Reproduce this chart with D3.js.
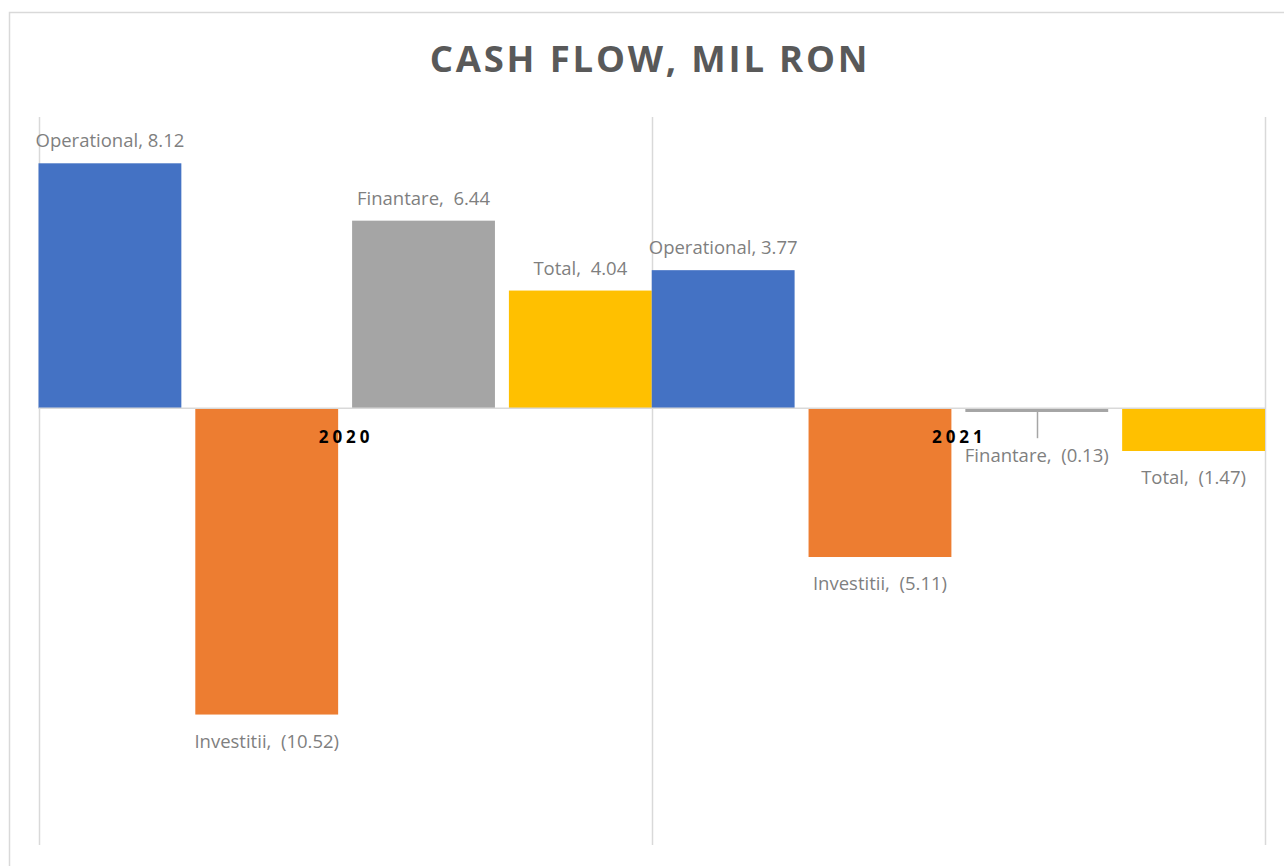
<!DOCTYPE html>
<html lang="en">
<head>
<meta charset="utf-8">
<title>Cash Flow, mil RON</title>
<script src="https://cdn.jsdelivr.net/npm/d3@7"></script>
<style>
  body { margin: 0; background: #fff; }
  svg { display: block; }
</style>
</head>
<body>
<div id="chart"></div>
<script>

// data
var years = ["2020", "2021"];
var series = ["Operational", "Investitii", "Finantare", "Total"];
var colors = ["#4472C4", "#ED7D31", "#A5A5A5", "#FFC000"];
// bar heights as drawn in the picture
var values2020 = [8.41, -10.52, 6.44, 4.04];
var values2021 = [4.74, -5.11, -0.13, -1.47];
// numbers shown in the data labels
var labels2020 = ["8.12", "(10.52)", "6.44", "4.04"];
var labels2021 = ["3.77", "(5.11)", "(0.13)", "(1.47)"];
var yDomain = [-15, 10];

var W = 1284, H = 866;

var svg = d3.select("#chart")
	.append("svg")
	.attr("width", W)
	.attr("height", H);

// outer frame
svg.append("rect")
	.attr("x", 9.5)
	.attr("y", 12.5)
	.attr("width", W + 20)
	.attr("height", H + 20)
	.attr("fill", "none")
	.attr("stroke", "#d9d9d9")
	.attr("stroke-width", 1.5);

// title
svg.append("text")
	.attr("x", 650)
	.attr("y", 72)
	.attr("text-anchor", "middle")
	.style("font-family", "'Open Sans', sans-serif")
	.style("font-weight", "bold")
	.style("font-size", "36.5px")
	.style("letter-spacing", "2.8px")
	.style("fill", "#595959")
	.text("CASH FLOW, MIL RON");

/*********************************************************************/
// scales

var x0 = d3.scaleBand()
	.domain(years)
	.range([38.5, 1265])
	.padding(0);

var x1 = d3.scaleBand()
	.domain(series)
	.range([0, x0.bandwidth()])
	.paddingInner(0.089)
	.paddingOuter(0);

var y = d3.scaleLinear()
	.domain(yDomain)
	.range([845, 117]);

var rows = [];
years.forEach(function(yr, i){
	var vals = i == 0 ? values2020 : values2021;
	var labs = i == 0 ? labels2020 : labels2021;
	series.forEach(function(s, j){
		rows.push({year: yr, name: s, value: vals[j], label: labs[j], color: colors[j]});
	});
});

/*********************************************************************/
// gridlines at category edges

var edges = years.map(function(d){ return x0(d); }).concat([x0.range()[1]]);

svg.append("g")
	.selectAll("line")
	.data(edges)
	.enter()
	.append("line")
	.attr("x1", function(d){ return Math.round(d) + 0.5; })
	.attr("x2", function(d){ return Math.round(d) + 0.5; })
	.attr("y1", y(yDomain[1]))
	.attr("y2", y(yDomain[0]))
	.attr("stroke", "#d9d9d9")
	.attr("stroke-width", 1.5);

/*********************************************************************/
// bars

svg.append("g")
	.selectAll("rect")
	.data(rows)
	.enter()
	.append("rect")
	.attr("x", function(d){ return x0(d.year) + x1(d.name); })
	.attr("width", x1.bandwidth())
	.attr("y", function(d){ return y(Math.max(0, d.value)); })
	.attr("height", function(d){ return Math.abs(y(d.value) - y(0)); })
	.attr("fill", function(d){ return d.color; });

// zero line
svg.append("line")
	.attr("x1", x0.range()[0])
	.attr("x2", x0.range()[1])
	.attr("y1", y(0))
	.attr("y2", y(0))
	.attr("stroke", "#d9d9d9")
	.attr("stroke-width", 1.5);

/*********************************************************************/
// year labels

svg.append("g")
	.selectAll("text")
	.data(years)
	.enter()
	.append("text")
	.attr("x", function(d){ return x0(d) + x0.bandwidth()/2 + 1; })
	.attr("y", y(0) + 35)
	.attr("text-anchor", "middle")
	.style("font-family", "'Open Sans', sans-serif")
	.style("font-weight", "bold")
	.style("font-size", "17px")
	.style("letter-spacing", "4px")
	.style("fill", "#000")
	.text(function(d){ return d; });

/*********************************************************************/
// data labels

function labelY(d){
	if(d.year == "2021" && d.name == "Finantare") return y(0) + 54;
	if(d.value >= 0) return y(d.value) - 16;
	return y(d.value) + 33;
}

// leader line for the small bar
rows.filter(function(d){ return d.year == "2021" && d.name == "Finantare"; })
	.forEach(function(d){
		var cx = Math.round(x0(d.year) + x1(d.name) + x1.bandwidth()/2) + 0.5;
		svg.append("line")
			.attr("x1", cx)
			.attr("x2", cx)
			.attr("y1", y(d.value))
			.attr("y2", y(0) + 30)
			.attr("stroke", "#a6a6a6")
			.attr("stroke-width", 1.5);
	});

svg.append("g")
	.selectAll("text")
	.data(rows)
	.enter()
	.append("text")
	.attr("x", function(d){ return x0(d.year) + x1(d.name) + x1.bandwidth()/2; })
	.attr("y", labelY)
	.attr("text-anchor", "middle")
	.style("white-space", "pre")
	.style("font-family", "'Open Sans', sans-serif")
	.style("font-size", "18.5px")
	.style("fill", "#7f7f7f")
	.text(function(d){
		var sep = (d.name == "Operational") ? " " : "  ";
		return d.name + "," + sep + d.label;
	});

</script>
</body>
</html>
